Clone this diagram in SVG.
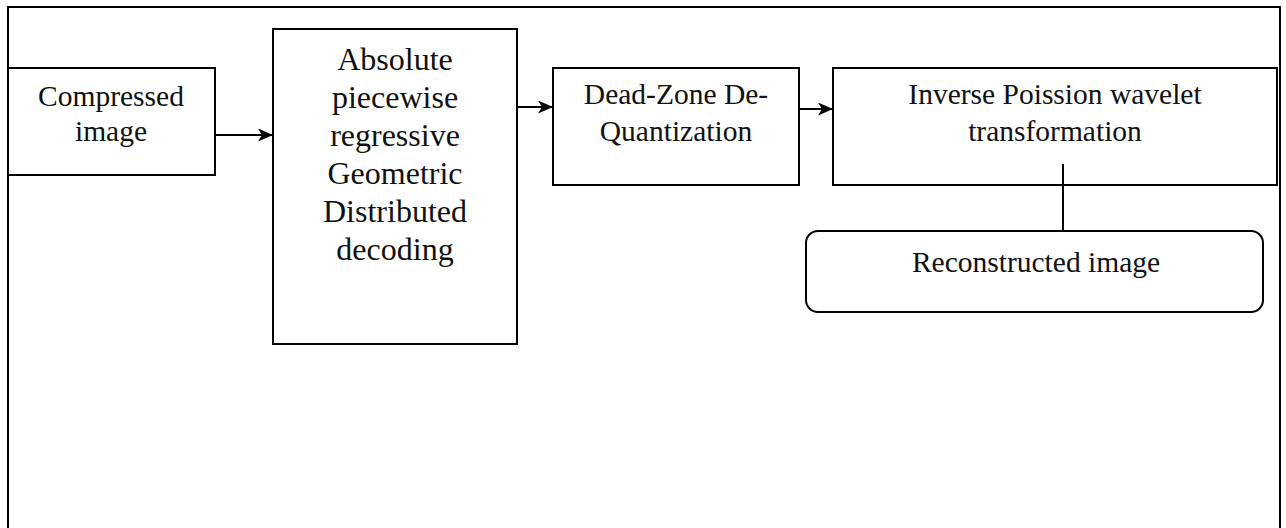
<svg xmlns="http://www.w3.org/2000/svg" width="1286" height="528" viewBox="0 0 1286 528">
<style>
.box{fill:#fff;stroke:#000;stroke-width:2}
.t{font-family:"Liberation Serif","Times New Roman",serif;font-size:29.5px;fill:#111;text-anchor:middle}
.tb{font-size:32px}
.c{stroke:#000;stroke-width:2;fill:none}
</style>
<defs>
<marker id="ah" markerWidth="15" markerHeight="13" refX="14" refY="6.5" orient="auto" markerUnits="userSpaceOnUse">
<path d="M0,0 L15,6.5 L0,13 L4,6.5 Z" fill="#000"/>
</marker>
</defs>
<rect width="1286" height="528" fill="#fff"/>
<path id="frame" d="M8,530 V7 H1280 V530" class="c"/>
<g id="compressed">
<rect class="box" x="8" y="68" width="207" height="107"/>
<text class="t" x="111" y="106">Compressed</text>
<text class="t" x="111" y="141">image</text>
</g>
<g id="decoding">
<rect class="box" x="273" y="29" width="244" height="315"/>
<text class="t tb" x="395" y="70">Absolute</text>
<text class="t tb" x="395" y="108">piecewise</text>
<text class="t tb" x="395" y="146">regressive</text>
<text class="t tb" x="395" y="184">Geometric</text>
<text class="t tb" x="395" y="222">Distributed</text>
<text class="t tb" x="395" y="260">decoding</text>
</g>
<g id="dequant">
<rect class="box" x="553" y="68" width="246" height="117"/>
<text class="t" x="676" y="104">Dead-Zone De-</text>
<text class="t" x="676" y="141">Quantization</text>
</g>
<g id="inverse">
<rect class="box" x="833" y="68" width="444" height="117"/>
<text class="t" x="1055" y="104">Inverse Poission wavelet</text>
<text class="t" x="1055" y="141">transformation</text>
</g>
<g id="reconstructed">
<rect class="box" x="806" y="231" width="457" height="81" rx="12"/>
<text class="t" x="1036" y="272">Reconstructed image</text>
</g>
<g id="connectors">
<line class="c" x1="215" y1="135" x2="272" y2="135" marker-end="url(#ah)"/>
<line class="c" x1="517" y1="107" x2="552" y2="107" marker-end="url(#ah)"/>
<line class="c" x1="799" y1="109" x2="832" y2="109" marker-end="url(#ah)"/>
<line class="c" x1="1063" y1="164" x2="1063" y2="231"/>
</g>
</svg>
